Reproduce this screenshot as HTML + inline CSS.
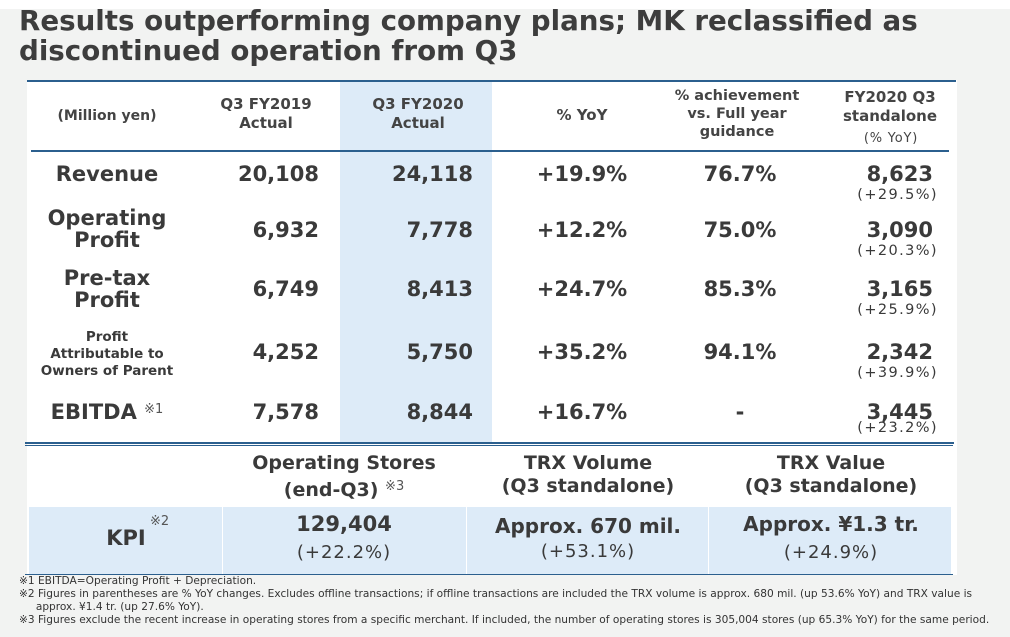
<!DOCTYPE html>
<html><head><meta charset="utf-8">
<style>
body{margin:0;width:1010px;height:637px;overflow:hidden;background:#f2f3f2;font-family:"DejaVu Sans","Liberation Sans",sans-serif;color:#3a3a3a;position:relative}
.a{position:absolute;white-space:nowrap}
.c{transform:translateX(-50%);text-align:center}
.r{transform:translateX(-100%);text-align:right}
.b{font-weight:bold}
.hl{position:absolute;background:#2b5f8e;height:2px}
</style></head><body>
<div class="a" style="left:0;top:0;width:1010px;height:9px;background:#fff"></div>
<div class="a b" style="left:19px;top:6px;font-size:27.7px;line-height:30px;color:#3d3d3d">Results outperforming company plans; MK reclassified as<br>discontinued operation from Q3</div>

<div class="a" style="left:27px;top:80px;width:930px;height:495px;background:#fff"></div>
<div class="a" style="left:340px;top:82px;width:152px;height:360px;background:#ddebf8"></div>
<div class="a" style="left:29px;top:507px;width:922px;height:67px;background:#ddebf8"></div>
<div class="a" style="left:222px;top:507px;width:1px;height:67px;background:#fff"></div>
<div class="a" style="left:466px;top:507px;width:1px;height:67px;background:#fff"></div>
<div class="a" style="left:708px;top:507px;width:1px;height:67px;background:#fff"></div>

<div class="hl" style="left:27px;top:80px;width:929px"></div>
<div class="hl" style="left:31px;top:150px;width:918px"></div>
<div class="hl" style="left:25px;top:442px;width:929px"></div>
<div class="hl" style="left:25px;top:445px;width:928px;height:1px"></div>
<div class="hl" style="left:25px;top:574px;width:928px;height:1px"></div>

<div class="a c b" style="left:107px;top:108px;font-size:14px;color:#444">(Million yen)</div>
<div class="a c b" style="left:266px;top:95px;font-size:15px;line-height:19px;color:#444">Q3 FY2019<br>Actual</div>
<div class="a c b" style="left:418px;top:95px;font-size:15px;line-height:19px;color:#444">Q3 FY2020<br>Actual</div>
<div class="a c b" style="left:582px;top:106px;font-size:15px;color:#444">% YoY</div>
<div class="a c b" style="left:737px;top:87px;font-size:14.5px;line-height:18px;color:#444">% achievement<br>vs. Full year<br>guidance</div>
<div class="a c b" style="left:890px;top:88px;font-size:15px;line-height:19px;color:#444">FY2020 Q3<br>standalone</div>
<div class="a c" style="left:891px;top:131px;font-size:13px;letter-spacing:0.8px;color:#444">(% YoY)</div>

<div class="a c b" style="left:107px;top:162px;font-size:21px">Revenue</div>
<div class="a c b" style="left:107px;top:207px;font-size:21px;line-height:22px">Operating<br>Profit</div>
<div class="a c b" style="left:107px;top:267px;font-size:21px;line-height:22px">Pre-tax<br>Profit</div>
<div class="a c b" style="left:107px;top:329px;font-size:13.5px;line-height:17px">Profit<br>Attributable to<br>Owners of Parent</div>
<div class="a c b" style="left:107px;top:400px;font-size:21px">EBITDA <span style="font-weight:normal;font-size:13px;vertical-align:6px;color:#555">※1</span></div>

<div id="cells"></div>

<div class="a c b" style="left:344px;top:452px;font-size:19px;line-height:23px">Operating Stores<br>(end-Q3) <span style="font-weight:normal;font-size:13px;vertical-align:6px;color:#555">※3</span></div>
<div class="a c b" style="left:588px;top:452px;font-size:19px;line-height:23px">TRX Volume<br>(Q3 standalone)</div>
<div class="a c b" style="left:831px;top:452px;font-size:19px;line-height:23px">TRX Value<br>(Q3 standalone)</div>
<div class="a c b" style="left:126px;top:526px;font-size:21px">KPI</div>
<div class="a" style="left:150px;top:514px;font-size:13px;color:#555">※2</div>
<div class="a c b" style="left:344px;top:512px;font-size:21px">129,404</div>
<div class="a c" style="left:344px;top:542px;font-size:18px;letter-spacing:1px">(+22.2%)</div>
<div class="a c b" style="left:588px;top:514px;font-size:20px">Approx. 670 mil.</div>
<div class="a c" style="left:588px;top:541px;font-size:18px;letter-spacing:1px">(+53.1%)</div>
<div class="a c b" style="left:831px;top:512px;font-size:20px">Approx. ¥1.3 tr.</div>
<div class="a c" style="left:831px;top:542px;font-size:18px;letter-spacing:1px">(+24.9%)</div>

<div class="a" style="left:19px;top:575px;font-size:10.6px;line-height:13px;color:#333">※1 EBITDA=Operating Profit + Depreciation.<br>※2 Figures in parentheses are % YoY changes. Excludes offline transactions; if offline transactions are included the TRX volume is approx. 680 mil. (up 53.6% YoY) and TRX value is<br>&nbsp;&nbsp;&nbsp;&nbsp;&nbsp;approx. ¥1.4 tr. (up 27.6% YoY).<br>※3 Figures exclude the recent increase in operating stores from a specific merchant. If included, the number of operating stores is 305,004 stores (up 65.3% YoY) for the same period.</div>

<script>
const fy2019=["20,108","6,932","6,749","4,252","7,578"];
const fy2020=["24,118","7,778","8,413","5,750","8,844"];
const yoy=["+19.9%","+12.2%","+24.7%","+35.2%","+16.7%"];
const achieve=["76.7%","75.0%","85.3%","94.1%","-"];
const standalone=["8,623","3,090","3,165","2,342","3,445"];
const standaloneYoy=["(+29.5%)","(+20.3%)","(+25.9%)","(+39.9%)","(+23.2%)"];
const rowY=[162,218,277,340,400];
const host=document.getElementById('cells');
function cell(txt,x,y,cls,fs,bold,name,ls){
  const d=document.createElement('div');
  d.className='a '+cls;
  d.style.left=x+'px';d.style.top=y+'px';d.style.fontSize=fs+'px';
  if(bold)d.style.fontWeight='bold';
  if(ls)d.style.letterSpacing=ls+'px';
  d.textContent=txt;
  
  
  host.appendChild(d);
}
for(let i=0;i<5;i++){
  const y=rowY[i];
  cell(fy2019[i],319,y,'r',21,true,'fy2019-value');
  cell(fy2020[i],473,y,'r',21,true,'fy2020-value');
  cell(yoy[i],582,y,'c',21,true,'yoy-value');
  cell(achieve[i],740,y,'c',21,true,'achievement-value');
  cell(standalone[i],933,y,'r',21,true,'standalone-value');
  cell(standaloneYoy[i],938,y+25-(i==4?5:0),'r',14.5,false,'standalone-yoy',1.4);
}
</script>
</body></html>
